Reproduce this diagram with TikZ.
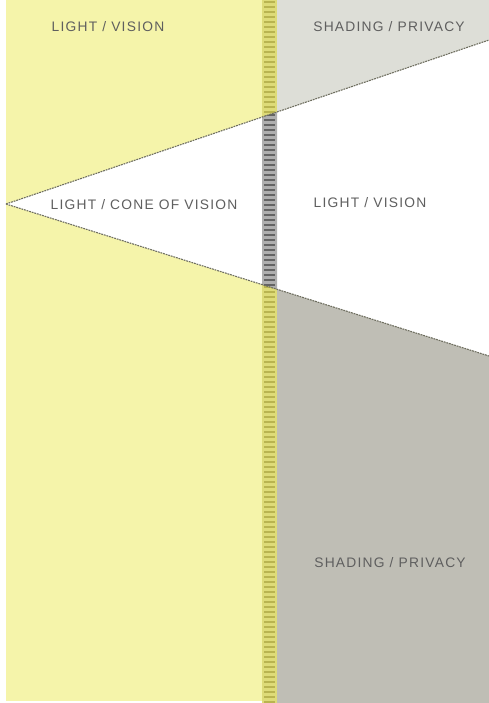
\documentclass[tikz,border=0pt]{standalone}
\usepackage{fontspec}
\setmainfont{Liberation Sans}[LetterSpace=9]
\definecolor{yel}{RGB}{245,244,170}
\definecolor{yelstrip}{RGB}{222,219,120}
\definecolor{yeltick}{RGB}{185,180,80}
\definecolor{greystrip}{RGB}{175,175,175}
\definecolor{greytick}{RGB}{100,100,100}
\definecolor{lightgrey}{RGB}{221,222,215}
\definecolor{darkgrey}{RGB}{191,190,181}
\definecolor{txt}{RGB}{95,95,95}
\definecolor{edge}{RGB}{110,110,95}
\tikzset{
  label/.style={font=\fontsize{13.8}{16}\selectfont, text=txt, inner sep=0pt, anchor=center},
  edgeline/.style={draw=edge, line width=1.1pt, dash pattern=on 1.8pt off 0.9pt},
}
\begin{document}
\begin{tikzpicture}[x=1pt,y=-1pt]
\useasboundingbox (0,0) rectangle (489,703);
\fill[white] (0,0) rectangle (489,703);
% coordinates
\coordinate (apex) at (6,204);
\coordinate (ur) at (489,40);
\coordinate (lr) at (489,356);
\coordinate (ul) at (262,117.1);
\coordinate (ll) at (262,284.6);
\coordinate (ul2) at (277,112.0);
\coordinate (ll2) at (277,289.3);
% left yellow
\fill[yel] (6,0) rectangle (262,701);
% white cone on left
\fill[white] (apex) -- (ul) -- (ll) -- cycle;
% right top light grey
\fill[lightgrey] (277,0) -- (489,0) -- (ur) -- (ul2) -- cycle;
% right bottom dark grey
\fill[darkgrey] (ll2) -- (lr) -- (489,703) -- (277,703) -- cycle;
% strip
\fill[yelstrip] (262,0) rectangle (277,703);
\fill[greystrip] (ul) -- (ul2) -- (ll2) -- (ll) -- cycle;
\begin{scope}
  \clip (262,0) -- (277,0) -- (ul2) -- (ul) -- cycle;
  \foreach \y in {2,7,...,120} \draw[yeltick, line width=1.3pt] (264,\y) -- (275,\y);
\end{scope}
\begin{scope}
  \clip (ll) -- (ll2) -- (277,703) -- (262,703) -- cycle;
  \foreach \y in {282,287,...,703} \draw[yeltick, line width=1.3pt] (264,\y) -- (275,\y);
\end{scope}
\begin{scope}
  \clip (ul) -- (ul2) -- (ll2) -- (ll) -- cycle;
  \foreach \y in {110,115,...,295} \draw[greytick, line width=1.3pt] (264,\y) -- (275,\y);
\end{scope}
% edges
\draw[edgeline] (apex) -- (ur);
\draw[edgeline] (apex) -- (lr);
% labels
\node[label] (lv1) at (108,27) {LIGHT / VISION};
\node[label] (sp1) at (389,27) {SHADING / PRIVACY};
\node[label] (lcv) at (144,205) {LIGHT / CONE OF VISION};
\node[label] (lv2) at (370,203) {LIGHT / VISION};
\node[label] (sp2) at (390,563) {SHADING / PRIVACY};
\end{tikzpicture}
\end{document}
